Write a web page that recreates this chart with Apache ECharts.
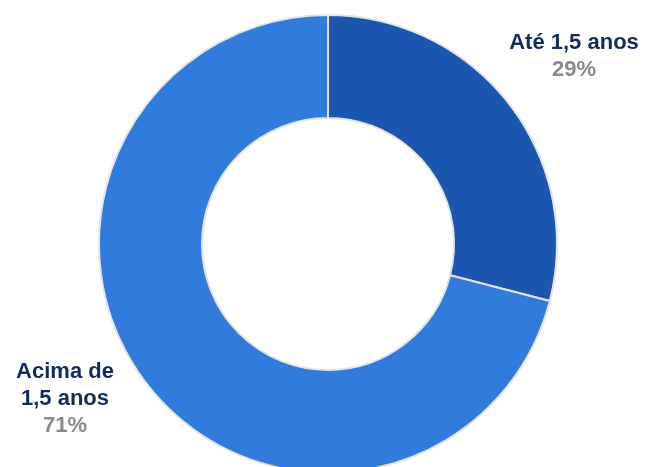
<!DOCTYPE html>
<html>
<head>
<meta charset="utf-8">
<script src="https://cdn.jsdelivr.net/npm/echarts@6/dist/echarts.min.js"></script>
<style>html,body{margin:0;padding:0;background:#fff;}#c{width:646px;height:467px;}</style>
</head>
<body>
<div id="c"></div>
<script>
var categories = ['Até 1,5 anos', 'Acima de\n1,5 anos'];
var values = [29, 71];
var sliceColors = ['#1b57b1', '#317bdc'];
var labelPos = [[574, 56], [65, 399]];

var chart = echarts.init(document.getElementById('c'), null, {renderer: 'canvas'});
chart.setOption({
  animation: false,
  series: [{
    type: 'pie',
    center: [328, 244],
    radius: [126, 229],
    startAngle: 90,
    clockwise: true,
    silent: true,
    avoidLabelOverlap: false,
    itemStyle: {borderColor: '#e4e4e4', borderWidth: 2},
    data: categories.map(function (c, i) {
      return {name: c, value: values[i], itemStyle: {color: sliceColors[i]}};
    }),
    label: {
      show: true,
      position: 'outside',
      overflow: 'none',
      width: 300,
      formatter: function (p) {
        return p.name.split('\n').map(function (s) { return '{n|' + s + '}'; }).join('\n') + '\n{p|' + Math.round(p.percent) + '%}';
      },
      align: 'center',
      rich: {
        n: {fontFamily: 'Liberation Sans, Arial, sans-serif', fontWeight: 'bold', fontSize: 22, lineHeight: 27, color: '#102d5d', align: 'center'},
        p: {fontFamily: 'Liberation Sans, Arial, sans-serif', fontWeight: 'bold', fontSize: 22, lineHeight: 27, color: '#8a8a8a', align: 'center'}
      }
    },
    labelLine: {show: false},
    labelLayout: function (params) {
      var pos = labelPos[params.dataIndex];
      return {x: pos[0], y: pos[1], align: 'center', verticalAlign: 'middle', hideOverlap: false};
    }
  }]
});
</script>
</body>
</html>
